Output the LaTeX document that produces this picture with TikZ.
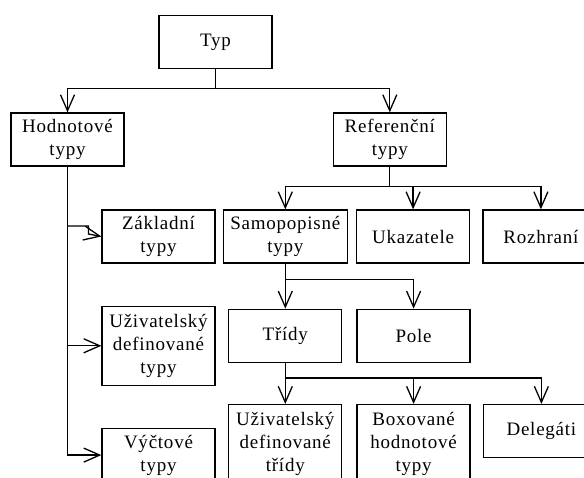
\documentclass[tikz,border=0pt]{standalone}
\usepackage{fontspec}
\setmainfont{Liberation Serif}[LetterSpace=4]
\usetikzlibrary{arrows.meta,positioning,calc}

\begin{document}
\begin{tikzpicture}[
  x=1pt,y=-1pt,
  box/.style={draw,line width=1.3pt,align=center,inner sep=0pt,minimum width=113pt,minimum height=53pt,font=\fontsize{19pt}{23.3pt}\selectfont},
  arrow/.style={-{Straight Barb[length=16pt,width=14pt]},line width=1.3pt}
]
\useasboundingbox[fill=white] (0,0) rectangle (584,477);
\clip (0,0) rectangle (584,477);
\node[box] (typ) at (215.5,42) {Typ};
\node[box] (hodn) at (67.5,139.5) {Hodnotové\\typy};
\node[box,right=208pt of hodn] (ref) {Referenční\\typy};
\node[box] (zakl) at (158.5,236.5) {Základní\\typy};
\node[box,below=42pt of zakl,minimum height=79pt] (uzty) {Uživatelský\\definované\\typy};
\node[box,below=42pt of uzty] (vyct) {Výčtové\\typy};
\node[box,right=7pt of zakl,minimum width=124pt] (samo) {Samopopisné\\typy};
\node[box,right=8pt of samo] (ukaz) {Ukazatele};
\node[box,right=12pt of ukaz,minimum width=116pt] (rozh) {Rozhraní};
\node[box,below=45pt of samo] (tridy) {Třídy};
\node[box,right=14pt of tridy] (pole) {Pole};
\node[box,below=41pt of tridy,minimum height=79pt] (uztr) {Uživatelský\\definované\\třídy};
\node[box,below=41pt of pole,minimum height=79pt] (boxov) {Boxované\\hodnotové\\typy};
\node[box,right=12pt of boxov.north east,anchor=north west,minimum width=116pt] (deleg) {Delegáti};
\draw[arrow] (typ.south) -- ++(0,19) -| (hodn.north);
\draw[arrow] (typ.south) -- ++(0,19) -| (ref.north);
\draw[arrow] (hodn.south) |- (vyct.west);
\draw[arrow] (hodn.south |- uzty.west) -- (uzty.west);
\coordinate (zlom) at ($(hodn.south |- zakl.west)+(0,-10.5)$);
\draw[arrow] (zlom) -- ++(21,0) -- ++(0,8) -- (zakl.west);
\draw[arrow] (ref.south) -- ++(0,20) -| (samo.north);
\draw[arrow] (ref.south) -- ++(0,20) -| (ukaz.north);
\draw[arrow] (ref.south) -- ++(0,20) -| (rozh.north);
\draw[arrow] (samo.south) -- (samo.south |- tridy.north);
\draw[arrow] (samo.south) -- ++(0,16) -| (pole.north);
\draw[arrow] (tridy.south) -- (uztr.north);
\draw[arrow] (tridy.south) -- ++(0,15) -| (boxov.north);
\draw[arrow] (tridy.south) -- ++(0,15) -| (deleg.north);
\end{tikzpicture}
\end{document}
